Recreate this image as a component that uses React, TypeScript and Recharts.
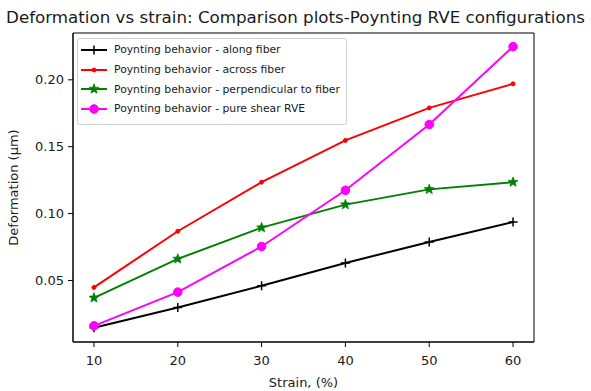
import {
  Legend,
  Line,
  LineChart,
  ReferenceArea,
  XAxis,
  YAxis,
} from "recharts";

const strain = [10, 20, 30, 40, 50, 60];
const alongFiber = [0.0146, 0.0298, 0.046, 0.0631, 0.0788, 0.0937];
const acrossFiber = [0.0448, 0.0868, 0.1235, 0.1547, 0.179, 0.197];
const perpendicularFiber = [0.037, 0.0661, 0.0895, 0.1067, 0.1181, 0.1235];
const pureShear = [0.0161, 0.0413, 0.0754, 0.1174, 0.1666, 0.2248];

const xTicks = [10, 20, 30, 40, 50, 60];
const yTicks = [0.05, 0.1, 0.15, 0.2];
const X_DOMAIN: [number, number] = [7.5, 62.5];
const Y_DOMAIN: [number, number] = [0.004, 0.235];

const FONT = "'DejaVu Sans', sans-serif";
const TEXT = "#1a1a1a";

const data = strain.map((s, i) => ({
  strain: s,
  along: alongFiber[i],
  across: acrossFiber[i],
  perp: perpendicularFiber[i],
  shear: pureShear[i],
}));

function plusMark(cx: number, cy: number, color: string) {
  return <path d={`M${cx - 4.5},${cy}h9M${cx},${cy - 4.5}v9`} stroke={color} strokeWidth={1.5} fill="none" />;
}

function starMark(cx: number, cy: number, color: string, r = 5.2) {
  const pts: string[] = [];
  for (let k = 0; k < 10; k++) {
    const rad = k % 2 === 0 ? r : r * 0.42;
    const a = -Math.PI / 2 + (k * Math.PI) / 5;
    pts.push(`${(cx + rad * Math.cos(a)).toFixed(2)},${(cy + rad * Math.sin(a)).toFixed(2)}`);
  }
  return <polygon points={pts.join(" ")} fill={color} stroke={color} strokeWidth={0.8} />;
}

function dotMark(cx: number, cy: number, color: string, r: number) {
  return <circle cx={cx} cy={cy} r={r} fill={color} stroke={color} />;
}

type Series = { key: string; name: string; color: string; mark: (cx: number, cy: number) => React.ReactElement };

const SERIES: Series[] = [
  { key: "along", name: "Poynting behavior - along fiber", color: "#000000", mark: (x, y) => plusMark(x, y, "#000000") },
  { key: "across", name: "Poynting behavior - across fiber", color: "#ff0000", mark: (x, y) => dotMark(x, y, "#ff0000", 2) },
  { key: "perp", name: "Poynting behavior - perpendicular to fiber", color: "#008000", mark: (x, y) => starMark(x, y, "#008000") },
  { key: "shear", name: "Poynting behavior - pure shear RVE", color: "#ff00ff", mark: (x, y) => dotMark(x, y, "#ff00ff", 4.3) },
];

function LegendBox() {
  return (
    <div
      style={{
        border: "1px solid #d0d0d0",
        borderRadius: 3,
        background: "rgba(255,255,255,0.85)",
        padding: "1px 6px 5px 2px",
        fontFamily: FONT,
        fontSize: 10.8,
        color: TEXT,
      }}
    >
      {SERIES.map((s) => (
        <div key={s.key} style={{ display: "flex", alignItems: "center", height: 19.7 }}>
          <svg width={28} height={14} style={{ marginRight: 6 }}>
            <line x1={1} y1={7} x2={27} y2={7} stroke={s.color} strokeWidth={2} />
            {s.mark(14, 7)}
          </svg>
          <span>{s.name}</span>
        </div>
      ))}
    </div>
  );
}

export default function App() {
  return (
    <div style={{ position: "absolute", left: 0, top: 0, width: 591, height: 391, background: "#fff" }}>
      <div
        style={{
          position: "absolute",
          left: 0,
          width: 591,
          top: 7,
          textAlign: "center",
          fontFamily: FONT,
          fontSize: 16.7,
          color: TEXT,
          whiteSpace: "nowrap",
          zIndex: 2,
        }}
      >
        Deformation vs strain: Comparison plots-Poynting RVE configurations
      </div>
      <LineChart width={591} height={391} data={data} margin={{ top: 33, right: 57, bottom: 0, left: 0 }}>
        <XAxis
          dataKey="strain"
          type="number"
          domain={X_DOMAIN}
          ticks={xTicks}
          allowDataOverflow
          height={49}
          tickLine={{ stroke: "#000" }}
          tickSize={5}
          tickMargin={9}
          axisLine={{ stroke: "#000" }}
          tick={{ fontFamily: FONT, fontSize: 13, fill: TEXT }}
          label={{ value: "Strain, (%)", position: "insideBottom", offset: 4, fontFamily: FONT, fontSize: 13, fill: TEXT }}
        />
        <YAxis
          type="number"
          domain={Y_DOMAIN}
          ticks={yTicks}
          allowDataOverflow
          width={73}
          tickLine={{ stroke: "#000" }}
          tickSize={5}
          tickMargin={4}
          axisLine={{ stroke: "#000" }}
          tickFormatter={(v: number) => v.toFixed(2)}
          tick={{ fontFamily: FONT, fontSize: 13, fill: TEXT }}
          label={{
            value: "Deformation (μm)",
            angle: -90,
            position: "insideLeft",
            offset: 13,
            style: { textAnchor: "middle" },
            fontFamily: FONT,
            fontSize: 13,
            fill: TEXT,
          }}
        />
        <ReferenceArea
          x1={X_DOMAIN[0]}
          x2={X_DOMAIN[1]}
          y1={Y_DOMAIN[0]}
          y2={Y_DOMAIN[1]}
          fill="none"
          fillOpacity={0}
          stroke="#000"
          strokeWidth={1}
          ifOverflow="visible"
        />
        {SERIES.map((s) => (
          <Line
            key={s.key}
            dataKey={s.key}
            name={s.name}
            stroke={s.color}
            strokeWidth={2}
            isAnimationActive={false}
            dot={(p: any) => <g key={`${s.key}-${p.index}`}>{s.mark(p.cx, p.cy)}</g>}
            activeDot={false}
          />
        ))}
        <Legend
          layout="horizontal"
          verticalAlign="middle"
          align="center"
          wrapperStyle={{ left: 77, top: 38, width: "auto" }}
          content={() => <LegendBox />}
        />
      </LineChart>
    </div>
  );
}
